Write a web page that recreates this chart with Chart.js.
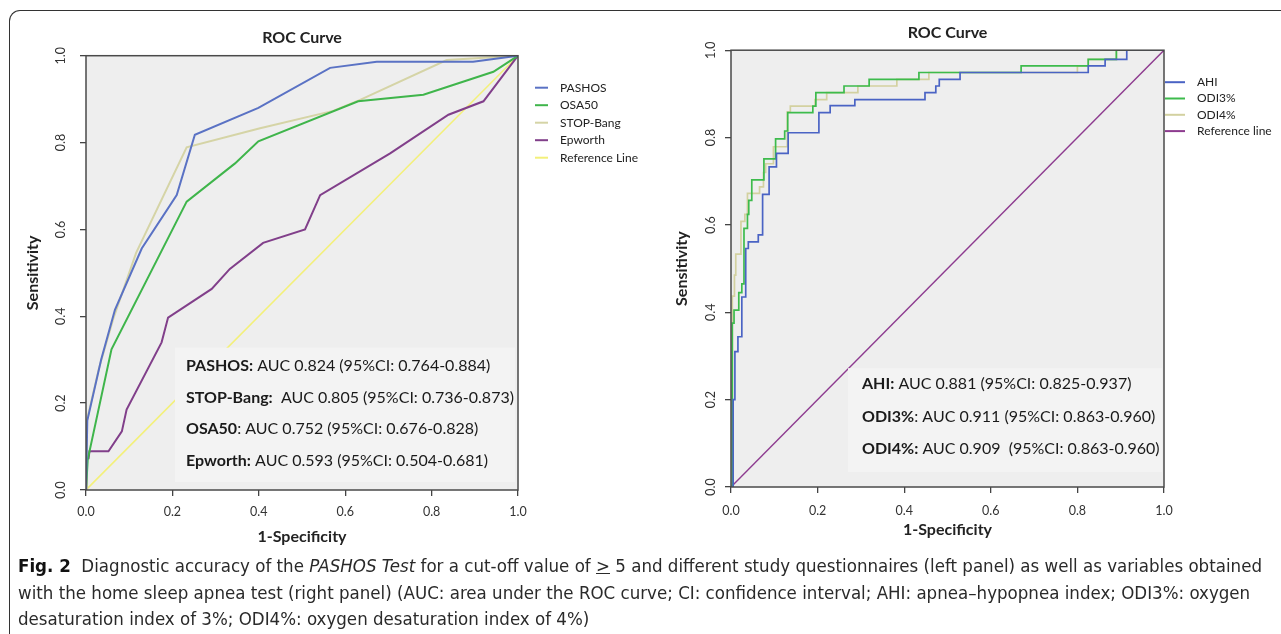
<!DOCTYPE html>
<html>
<head>
<meta charset="utf-8">
<script src="https://cdn.jsdelivr.net/npm/chart.js@4/dist/chart.umd.min.js"></script>
<style>
  body { margin: 0; background: #fff; width: 1281px; height: 634px; overflow: hidden; position: relative; font-family: Lato, sans-serif; }
  #frame { position: absolute; left: 9px; top: 10px; width: 1400px; height: 700px; border-top: 1px solid #333; border-left: 1px solid #333; border-top-left-radius: 11px; }
  #left { position: absolute; left: 0; top: 0; }
  #right { position: absolute; left: 660px; top: 0; }
  #caption { position: absolute; left: 18px; top: 553px; font-family: "DejaVu Sans Condensed", "Liberation Sans", sans-serif; font-size: 17.5px; line-height: 26.5px; color: #2a2a2a; }
  #caption .ln { display: inline-block; white-space: nowrap; transform-origin: 0 0; }
  #caption b { color: #111; }
</style>
</head>
<body>
<div id="frame"></div>
<canvas id="left" width="660" height="560"></canvas>
<canvas id="right" width="621" height="560"></canvas>
<div id="caption">
  <span class="ln"><b>Fig. 2</b>&nbsp; Diagnostic accuracy of the <i>PASHOS Test</i> for a cut-off value of <u>&gt;</u> 5 and different study questionnaires (left panel) as well as variables obtained</span><br>
  <span class="ln">with the home sleep apnea test (right panel) (AUC: area under the ROC curve; CI: confidence interval; AHI: apnea–hypopnea index; ODI3%: oxygen</span><br>
  <span class="ln">desaturation index of 3%; ODI4%: oxygen desaturation index of 4%)</span>
</div>
<script>
// tick labels shared by both panels
const tickValues = [0, 0.2, 0.4, 0.6, 0.8, 1.0];

// left panel: questionnaires
const pashosX = [0, 0.003, 0.035, 0.067, 0.129, 0.21, 0.252, 0.399, 0.565, 0.673, 0.896, 1];
const pashosY = [0, 0.16, 0.30, 0.415, 0.556, 0.679, 0.818, 0.88, 0.972, 0.986, 0.986, 1];
const osa50X = [0, 0.004, 0.059, 0.233, 0.345, 0.399, 0.63, 0.781, 0.943, 1];
const osa50Y = [0, 0.07, 0.324, 0.664, 0.752, 0.803, 0.895, 0.91, 0.963, 1];
const stopBangX = [0, 0.002, 0.03, 0.063, 0.116, 0.233, 0.403, 0.572, 0.627, 0.835, 1];
const stopBangY = [0, 0.16, 0.28, 0.394, 0.546, 0.789, 0.833, 0.873, 0.895, 0.99, 1];
const epworthX = [0, 0.002, 0.006, 0.008, 0.052, 0.083, 0.094, 0.175, 0.19, 0.291, 0.333, 0.41, 0.507, 0.542, 0.704, 0.839, 0.92, 1];
const epworthY = [0, 0.073, 0.073, 0.089, 0.089, 0.135, 0.185, 0.34, 0.397, 0.463, 0.509, 0.569, 0.6, 0.679, 0.775, 0.864, 0.895, 1];
const refX = [0, 1];
const refY = [0, 1];

const leftStats = [
  ['PASHOS:', ' AUC 0.824 (95%CI: 0.764-0.884)'],
  ['STOP-Bang:', '  AUC 0.805 (95%CI: 0.736-0.873)'],
  ['OSA50', ': AUC 0.752 (95%CI: 0.676-0.828)'],
  ['Epworth:', ' AUC 0.593 (95%CI: 0.504-0.681)']
];

// right panel: home sleep apnea test (points where each step rises)
const ahiX = [0, 0.005, 0.009, 0.016, 0.025, 0.034, 0.04, 0.063, 0.073, 0.088, 0.105, 0.132, 0.203, 0.229, 0.286, 0.448, 0.473, 0.481, 0.529, 0.825, 0.864, 0.914, 1];
const ahiY = [0, 0.20, 0.31, 0.344, 0.435, 0.546, 0.561, 0.577, 0.67, 0.733, 0.764, 0.811, 0.857, 0.873, 0.887, 0.903, 0.918, 0.933, 0.949, 0.964, 0.979, 1, 1];
const odi3X = [0, 0.003, 0.007, 0.018, 0.025, 0.03, 0.038, 0.041, 0.048, 0.076, 0.103, 0.124, 0.131, 0.189, 0.196, 0.261, 0.319, 0.434, 0.67, 0.825, 0.89, 1];
const odi3Y = [0, 0.375, 0.405, 0.445, 0.465, 0.592, 0.624, 0.656, 0.703, 0.751, 0.797, 0.815, 0.857, 0.872, 0.903, 0.918, 0.933, 0.949, 0.964, 0.979, 1, 1];
const odi4X = [0, 0.003, 0.008, 0.011, 0.023, 0.032, 0.038, 0.066, 0.075, 0.08, 0.098, 0.13, 0.137, 0.194, 0.221, 0.293, 0.383, 0.457, 0.80, 0.825, 0.89, 1];
const odi4Y = [0, 0.437, 0.485, 0.533, 0.608, 0.624, 0.672, 0.687, 0.72, 0.74, 0.779, 0.859, 0.872, 0.887, 0.903, 0.918, 0.933, 0.949, 0.964, 0.979, 1, 1];

const rightStats = [
  ['AHI:', ' AUC 0.881 (95%CI: 0.825-0.937)'],
  ['ODI3%', ': AUC 0.911 (95%CI: 0.863-0.960)'],
  ['ODI4%:', ' AUC 0.909  (95%CI: 0.863-0.960)']
];

const pts = (xs, ys) => xs.map((x, i) => ({ x: x, y: ys[i] }));

// grey plot background, stats box, frame and the small legend
function panelPlugin(c) {
  return {
    id: 'panel',
    beforeDatasetsDraw(chart) {
      const { ctx, chartArea: a } = chart;
      ctx.save();
      ctx.fillStyle = '#eeeeee';
      ctx.fillRect(a.left, a.top, a.width, a.height);
      ctx.restore();
    },
    afterDatasetsDraw(chart) {
      const { ctx, chartArea: a } = chart;
      ctx.save();
      ctx.fillStyle = '#f3f3f3';
      ctx.fillRect(a.left + c.box[0], a.top + c.box[1], a.width - c.box[0] - c.box[2], a.height - c.box[1] - c.box[3]);

      ctx.textBaseline = 'middle';
      ctx.fillStyle = '#1a1a1a';
      c.stats.forEach((s, i) => {
        const y = a.top + c.textTop + i * c.textGap;
        let x = a.left + c.textLeft;
        ctx.font = 'bold 16px Lato';
        ctx.fillText(s[0], x, y);
        x += ctx.measureText(s[0]).width;
        ctx.font = '16px Lato';
        ctx.fillText(s[1], x, y);
      });

      ctx.strokeStyle = '#4a4a4a';
      ctx.lineWidth = 1.5;
      ctx.strokeRect(a.left, a.top, a.width, a.height);

      chart.data.datasets.forEach((ds, i) => {
        const y = a.top + c.legTop + i * c.legGap;
        ctx.strokeStyle = ds.borderColor;
        ctx.lineWidth = 2;
        ctx.beginPath();
        ctx.moveTo(a.right + c.swatch[0], y);
        ctx.lineTo(a.right + c.swatch[1], y);
        ctx.stroke();
        ctx.font = '12px Lato';
        ctx.fillStyle = '#222';
        ctx.fillText(ds.label, a.right + c.legText, y);
      });
      ctx.restore();
    }
  };
}

function makeOptions(c) {
  return {
    responsive: false,
    animation: false,
    layout: { padding: { left: c.padLeft, right: c.padRight, top: 0, bottom: 0 } },
    plugins: {
      legend: { display: false },
      tooltip: { enabled: false },
      title: {
        display: true, text: 'ROC Curve', fullSize: false, color: '#222',
        font: { family: 'Lato', size: 16, weight: 'bold' },
        padding: { top: c.titleTop, bottom: c.titleBottom }
      }
    },
    scales: {
      x: {
        type: 'linear', min: 0, max: 1,
        afterBuildTicks: s => { s.ticks = tickValues.map(v => ({ value: v })); },
        afterFit: s => { s.height = c.xHeight; },
        grid: { drawOnChartArea: false, drawTicks: true, tickLength: 6, color: '#444', lineWidth: 1.3 },
        border: { display: false },
        ticks: { padding: c.xPad, color: '#333', maxRotation: 0, font: { family: 'Lato', size: 12.5 }, callback: v => Number(v).toFixed(1) },
        title: { display: true, text: '1-Specificity', color: '#222', font: { family: 'Lato', size: 16, weight: 'bold' }, padding: { top: 0, bottom: c.xTitlePad } }
      },
      y: {
        type: 'linear', min: 0, max: 1,
        afterBuildTicks: s => { s.ticks = tickValues.map(v => ({ value: v })); },
        afterFit: s => { s.width = c.yWidth; },
        grid: { drawOnChartArea: false, drawTicks: true, tickLength: 6, color: '#444', lineWidth: 1.3 },
        border: { display: false },
        ticks: { padding: c.yPad, color: '#333', minRotation: 90, maxRotation: 90, crossAlign: 'center', font: { family: 'Lato', size: 12.5 }, callback: v => Number(v).toFixed(1) },
        title: { display: true, text: 'Sensitivity', color: '#222', font: { family: 'Lato', size: 16, weight: 'bold' }, padding: { top: c.yTitlePad, bottom: 0 } }
      }
    }
  };
}

const line = (label, data, color, extra) => Object.assign({
  label: label, data: data, borderColor: color, backgroundColor: color,
  borderWidth: 2, pointRadius: 0, showLine: true, tension: 0, fill: false
}, extra || {});

const leftCfg = {
  padLeft: 20, padRight: 142, titleTop: 28, titleBottom: 8.5, xHeight: 70, xPad: 8.5, xTitlePad: 13.5,
  yWidth: 66, yPad: 10, yTitlePad: 3.5,
  box: [89, 292, 3, 8], stats: leftStats, textLeft: 100, textTop: 310, textGap: 31.7,
  legTop: 32, legGap: 17.5, swatch: [17, 30], legText: 42
};
new Chart(document.getElementById('left'), {
  type: 'scatter',
  data: {
    datasets: [
      line('PASHOS', pts(pashosX, pashosY), '#5a72c4'),
      line('OSA50', pts(osa50X, osa50Y), '#3fb54b'),
      line('STOP-Bang', pts(stopBangX, stopBangY), '#d5d4a6'),
      line('Epworth', pts(epworthX, epworthY), '#813f8a'),
      line('Reference Line', pts(refX, refY), '#f3f07a', { borderWidth: 1.6 })
    ]
  },
  options: makeOptions(leftCfg),
  plugins: [panelPlugin(leftCfg)]
});

const rightCfg = {
  padLeft: 8, padRight: 117, titleTop: 23.5, titleBottom: 7.5, xHeight: 73, xPad: 10.5, xTitlePad: 20.5,
  yWidth: 63, yPad: 5.5, yTitlePad: 4.5,
  box: [117, 318, 2, 15], stats: rightStats, textLeft: 131, textTop: 334, textGap: 32.5,
  legTop: 32, legGap: 16.3, swatch: [1, 21], legText: 33
};
new Chart(document.getElementById('right'), {
  type: 'scatter',
  data: {
    datasets: [
      line('AHI', pts(ahiX, ahiY), '#4a63c4', { stepped: 'before', borderWidth: 1.7 }),
      line('ODI3%', pts(odi3X, odi3Y), '#3dbb4c', { stepped: 'before', borderWidth: 1.7 }),
      line('ODI4%', pts(odi4X, odi4Y), '#d3d1a0', { stepped: 'before', borderWidth: 1.7 }),
      line('Reference line', pts(refX, refY), '#8d3b8f', { borderWidth: 1.4 })
    ]
  },
  options: makeOptions(rightCfg),
  plugins: [panelPlugin(rightCfg)]
});

// squeeze the caption lines to the printed width
const capLines = document.querySelectorAll('#caption .ln');
const k = 1244 / capLines[0].getBoundingClientRect().width;
capLines.forEach(l => { l.style.transform = 'scaleX(' + k + ')'; });
</script>
</body>
</html>
